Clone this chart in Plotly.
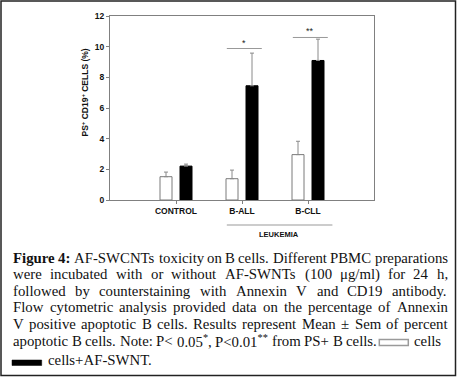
import re
import plotly.graph_objects as go

# ---------------- data ----------------
categories = ["CONTROL", "B-ALL", "B-CLL"]
cells_mean = [1.52, 1.39, 2.96]
cells_sem = [0.30, 0.56, 0.87]
af_mean = [2.21, 7.45, 9.10]
af_sem = [0.13, 2.13, 1.39]
sig_groups = [1, 2]
sig_labels = ["*", "**"]
sig_levels = [9.88, 10.6]
y_ticks = [0, 2, 4, 6, 8, 10, 12]
group_label = "LEUKEMIA"
y_title = "PS<sup>+</sup> CD19<sup>+</sup> CELLS (%)"
caption_lines = [
    "<b>Figure</b> <b>4:</b> AF-SWCNTs toxicity on B cells. Different PBMC preparations",
    "were incubated with or without AF-SWNTs (100 μg/ml) for 24 h,",
    "followed by counterstaining with Annexin V and CD19 antibody.",
    "Flow cytometric analysis provided data on the percentage of Annexin",
    "V positive apoptotic B cells. Results represent Mean ± Sem of percent",
    "apoptotic B cells. Note: P&lt; 0.05<sup>*</sup>, P&lt;0.01<sup>**</sup> from PS+ B cells.",
]
legend_white_text = "cells"
legend_black_text = "cells+AF-SWNT."

# ---------------- geometry (pixels) ----------------
W, H = 457, 377
PL, PR, PT, PB = 110, 374, 16, 200


def px(x):
    return (x - PL) / (PR - PL)


def py(y):
    return (PB - y) / (PB - PT)


xs = list(range(1, len(categories) + 1))

fig = go.Figure()
fig.add_trace(go.Bar(
    x=xs, y=cells_mean, name="cells",
    marker=dict(color="white", line=dict(color="#7a7a7a", width=1)),
    error_y=dict(type="data", symmetric=False, array=cells_sem,
                 arrayminus=[0] * len(cells_sem), color="#8a8a8a",
                 thickness=1, width=2),
))
fig.add_trace(go.Bar(
    x=xs, y=af_mean, name="cells+AF-SWNT",
    marker=dict(color="black", line=dict(color="black", width=1)),
    error_y=dict(type="data", symmetric=False, array=af_sem,
                 arrayminus=[0] * len(af_sem), color="#8a8a8a",
                 thickness=1, width=2),
))

axis_font = dict(family="Liberation Sans, Arial", size=8.5, color="#111", weight="bold")
fig.update_layout(
    width=W, height=H, autosize=False,
    margin=dict(l=PL, r=W - PR, t=PT, b=H - PB, pad=0),
    paper_bgcolor="white", plot_bgcolor="white",
    barmode="group", bargap=0.394, bargroupgap=0.4,
    showlegend=False,
    xaxis=dict(range=[0, len(categories) + 1], tickvals=xs, ticktext=categories,
               ticks="outside", ticklen=3, tickcolor="#808080", tickwidth=1,
               showline=True, linecolor="#808080", linewidth=1, mirror=True,
               showgrid=False, zeroline=False, tickfont=axis_font, fixedrange=True),
    yaxis=dict(range=[0, 12], tickvals=y_ticks, ticks="outside", ticklen=3,
               tickcolor="#808080", tickwidth=1,
               showline=True, linecolor="#808080", linewidth=1, mirror=True,
               showgrid=False, zeroline=False, tickfont=dict(axis_font, size=8.5),
               fixedrange=True),
)

annotations = []
shapes = []

# y title
annotations.append(dict(xref="paper", yref="paper", x=px(85), y=py(92.5),
                        text="<b>" + y_title + "</b>", textangle=-90, showarrow=False,
                        font=dict(family="Liberation Sans, Arial", size=8.5, color="#111"),
                        xanchor="center", yanchor="middle"))

# significance
for g, lab, lev in zip(sig_groups, sig_labels, sig_levels):
    shapes.append(dict(type="line", xref="x", yref="y", x0=xs[g] - 0.23, x1=xs[g] + 0.30,
                       y0=lev, y1=lev, line=dict(color="#999999", width=1)))
    annotations.append(dict(xref="x", yref="y", x=xs[g] + 0.03, y=lev, text=lab,
                            showarrow=False, xanchor="center", yanchor="bottom",
                            font=dict(family="Liberation Sans, Arial", size=9, color="#222"),
                            borderpad=0))

# group label
shapes.append(dict(type="line", xref="x", yref="paper", x0=xs[1] - 0.23, x1=xs[2] + 0.37,
                   y0=py(225), y1=py(225), line=dict(color="#999999", width=1)))
annotations.append(dict(xref="paper", yref="paper", x=px(279), y=py(234),
                        text="<b>" + group_label + "</b>", showarrow=False,
                        xanchor="center", yanchor="middle",
                        font=dict(family="Liberation Sans, Arial", size=7.5, color="#111")))

# ---------------- caption with justified words ----------------
CAP_FS = 14.8
CAP_FONT = "Liberation Serif"
reg_w = {' ': 250, '!': 333, '"': 408, '(': 333, ')': 333, '*': 500, '+': 564, ',': 250,
         '-': 333, '.': 250, '/': 278, ':': 278, ';': 278, '<': 564, '=': 564, '>': 564,
         '±': 564, 'μ': 500, '%': 833}
for d in "0123456789":
    reg_w[d] = 500
for tok in ("A722 B667 C667 D722 E611 F556 G722 H722 I333 J389 K722 L611 M889 N722 O722 "
            "P556 Q722 R667 S556 T611 U722 V722 W944 X722 Y722 Z611 a444 b500 c444 d500 "
            "e444 f333 g500 h500 i278 j278 k500 l278 m778 n500 o500 p500 q500 r333 s389 "
            "t278 u500 v500 w722 x500 y500 z444").split():
    reg_w[tok[0]] = int(tok[1:])
bold_w = {'F': 611, 'i': 278, 'g': 500, 'u': 556, 'r': 444, 'e': 444, '4': 500, ':': 333}


def measure(word):
    total = 0.0
    bold = False
    sup = False
    for part in re.split(r"(<[^>]+>)", word):
        if part.startswith("<"):
            tag = part.strip("<>/")
            closing = part.startswith("</")
            if tag == "b":
                bold = not closing
            elif tag == "sup":
                sup = not closing
            continue
        part = part.replace("&lt;", "<")
        for ch in part:
            w = bold_w.get(ch, reg_w.get(ch, 500)) if bold else reg_w.get(ch, 500)
            total += w * (0.7 if sup else 1.0)
    return total / 1000.0 * CAP_FS


def place_words(line, base, x_left, x_right, justify=True):
    words = line.split(" ")
    widths = [measure(w) for w in words]
    if justify and len(words) > 1:
        gap = (x_right - x_left - sum(widths)) / (len(words) - 1)
    else:
        gap = 0.25 * CAP_FS
    x = x_left
    for w, wd in zip(words, widths):
        annotations.append(dict(xref="paper", yref="paper", x=px(x), y=py(base - 0.3375 * CAP_FS),
                                text=w, showarrow=False, xanchor="left", yanchor="middle",
                                borderpad=0,
                                font=dict(family=CAP_FONT, size=CAP_FS, color="#111111")))
        x += wd + gap


baselines = [262.5, 279.0, 295.5, 312.0, 329.0, 346.0, 365.0]
for i, line in enumerate(caption_lines):
    right = 446.7 if i < 5 else 376.0
    place_words(line, baselines[i], 12.0, right, justify=True)
place_words(legend_white_text, baselines[5], 413.0, 447, justify=False)
place_words(legend_black_text, baselines[6], 47.0, 447, justify=False)

shapes.append(dict(type="rect", xref="paper", yref="paper", x0=px(379.3), x1=px(408.3),
                   y0=py(345.5), y1=py(339.5), line=dict(color="#9a9a9a", width=1.5),
                   fillcolor="white"))
shapes.append(dict(type="rect", xref="paper", yref="paper", x0=px(12), x1=px(41.7),
                   y0=py(365.5), y1=py(360), line=dict(color="black", width=0.5),
                   fillcolor="black"))

# outer frame
shapes.append(dict(type="rect", xref="paper", yref="paper", x0=px(1), x1=px(455.5),
                   y0=py(375.5), y1=py(1), line=dict(color="#222222", width=1.5)))

fig.update_layout(annotations=annotations, shapes=shapes)
fig.write_html("out.html", config={"displayModeBar": False},
               post_script="document.body.style.margin='0';document.body.style.padding='0';")
